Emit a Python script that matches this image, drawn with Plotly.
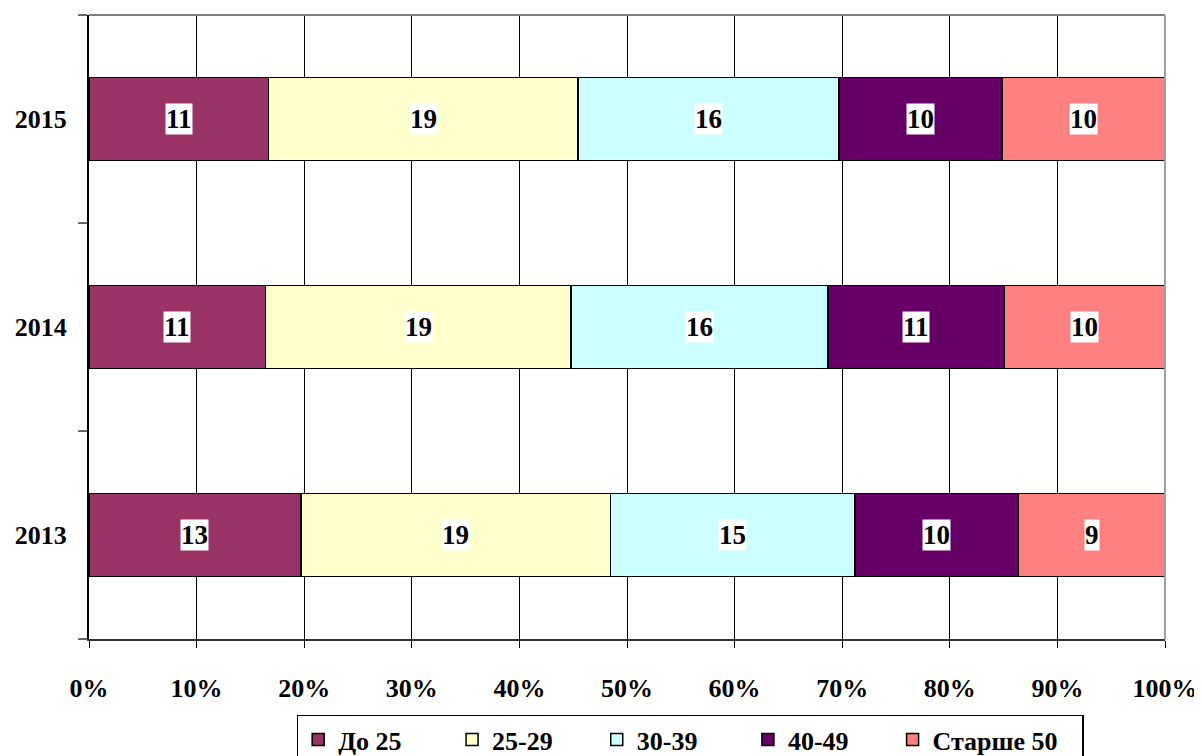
import plotly.graph_objects as go

years = ["2013", "2014", "2015"]
groups = ["До 25", "25-29", "30-39", "40-49", "Старше 50"]
values = {
    "До 25": [13, 11, 11],
    "25-29": [19, 19, 19],
    "30-39": [15, 16, 16],
    "40-49": [10, 11, 10],
    "Старше 50": [9, 10, 10],
}
colors = ["#993366", "#FFFFCC", "#CCFFFF", "#660066", "#FF8080"]
legend_pad = [7, 6, 7, 6, 3]
x_ticks = [0, 10, 20, 30, 40, 50, 60, 70, 80, 90, 100]
x_tick_labels = [f"{t}%" for t in x_ticks]

FONT = "Liberation Serif"
FS = 26

fig = go.Figure()
for g, c, p in zip(groups, colors, legend_pad):
    fig.add_trace(go.Bar(
        y=years, x=values[g], name=f"<b>{g}</b>" + "\u00a0" * p, orientation="h",
        marker=dict(color=c, line=dict(color="#000000", width=1.5)),
        width=0.4,
    ))

# data labels with white boxes, at the middle of each normalized segment
annotations = []
for i, yr in enumerate(years):
    total = sum(values[g][i] for g in groups)
    cum = 0
    for g in groups:
        v = values[g][i]
        mid = (cum + v / 2) / total * 100
        cum += v
        annotations.append(dict(
            x=mid, y=i, xref="x", yref="y", text=f"<b>{v}</b>", showarrow=False,
            font=dict(family=FONT, size=27, color="#000000"),
            bgcolor="#FFFFFF", borderpad=0,
        ))

fig.update_layout(
    barmode="stack", barnorm="percent",
    width=1202, height=775,
    margin=dict(l=81, r=45, t=7, b=144),
    paper_bgcolor="#FFFFFF", plot_bgcolor="#FFFFFF",
    font=dict(family=FONT, size=FS, color="#000000"),
    annotations=annotations,
    showlegend=True,
    legend=dict(
        orientation="h", x=0.193, xanchor="left", y=-0.121, yanchor="top",
        bordercolor="#000000", borderwidth=1.5,
        font=dict(family=FONT, size=FS, color="#000000"),
        traceorder="normal", itemwidth=30,
    ),
    xaxis=dict(
        range=[0, 100], tickvals=x_ticks, ticktext=[f"<b>{t}</b>" for t in x_tick_labels],
        showgrid=True, gridcolor="#000000", gridwidth=1,
        ticks="outside", ticklen=7, tickcolor="#000000", tickwidth=1,
        showline=True, linecolor="#333333", linewidth=2,
        zeroline=False, fixedrange=True, ticklabelstandoff=18,
        tickfont=dict(family=FONT, size=FS),
    ),
    yaxis=dict(
        type="category",
        categoryorder="array", categoryarray=years,
        range=[-0.5, 2.5],
        tickvals=years, ticktext=[f"<b>{y}</b>" for y in years],
        tickson="boundaries", ticks="outside", ticklen=9, tickcolor="#666666", tickwidth=2,
        showgrid=False, showline=True, linecolor="#000000", linewidth=2,
        zeroline=False, ticklabelstandoff=15,
        tickfont=dict(family=FONT, size=FS),
    ),
    shapes=[
        dict(type="line", xref="paper", yref="paper", x0=0, x1=1, y0=1, y1=1,
             line=dict(color="#808080", width=2)),
        dict(type="line", xref="paper", yref="paper", x0=1, x1=1, y0=0, y1=1,
             line=dict(color="#A0A0A0", width=2)),
    ],
)

fig.write_html("out.html")
